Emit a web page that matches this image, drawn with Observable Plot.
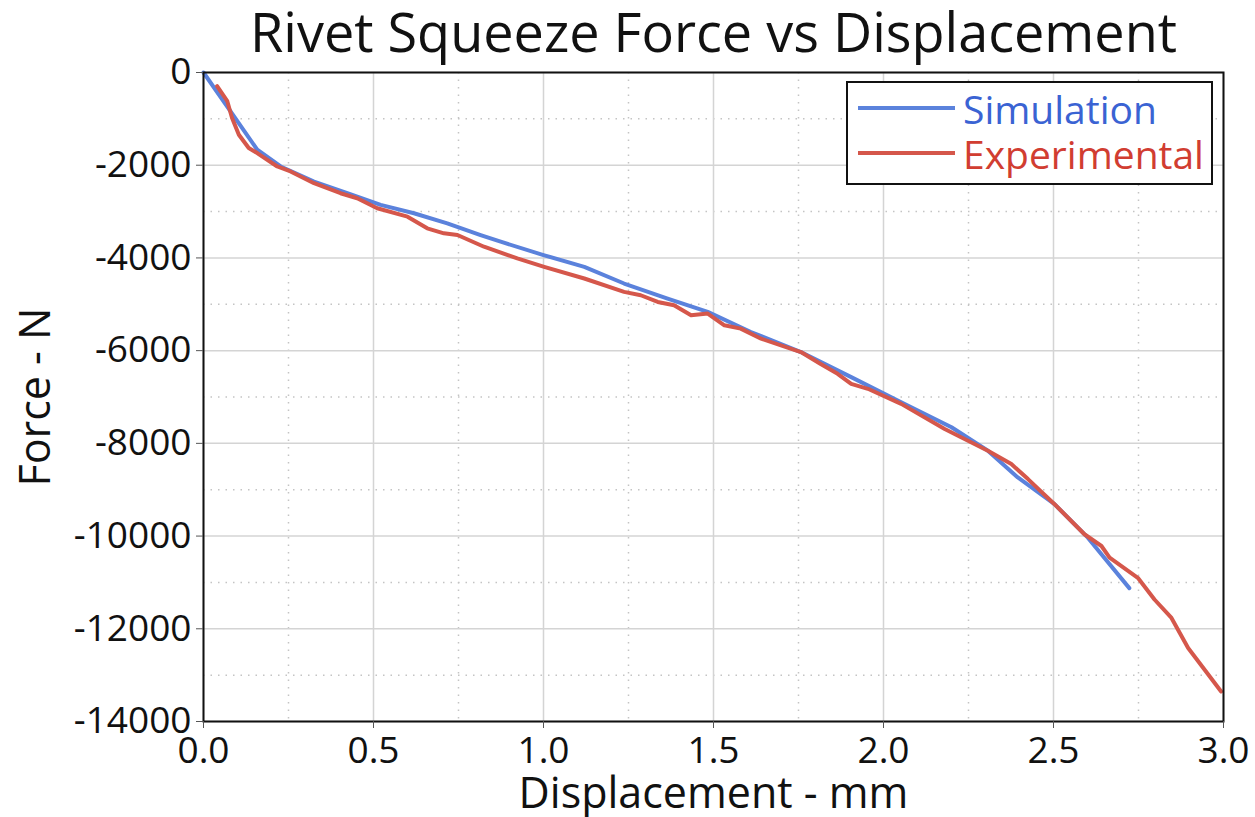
<!DOCTYPE html>
<html>
<head>
<meta charset="utf-8">
<script src="https://cdn.jsdelivr.net/npm/d3@7"></script>
<script src="https://cdn.jsdelivr.net/npm/@observablehq/plot@0.6"></script>
<style>
  body { margin: 0; background: #fff; }
  #wrap { position: relative; width: 1255px; height: 817px; font-family: "Open Sans", "Noto Sans", sans-serif; }
  #legend { position: absolute; left: 846px; top: 81px; width: 363px; height: 100px; border: 2px solid #111; background: #fff; }
  .item { position: absolute; left: 10px; height: 44px; display: flex; align-items: center; font-size: 39px; }
  .swatch { display: inline-block; width: 97px; height: 4px; margin-right: 8px; }
</style>
</head>
<body>
<div id="wrap"></div>
<script>
const title = "Rivet Squeeze Force vs Displacement";
const xLabel = "Displacement - mm";
const yLabel = "Force - N";
const seriesNames = ["Simulation", "Experimental"];
const lineColors = ["#5b82dc", "#d5574b"];
const textColors = ["#3a63d3", "#d13d31"];

const simX = [0, 0.158, 0.227, 0.325, 0.423, 0.521, 0.619, 0.717, 0.815, 0.874, 1.0, 1.12, 1.237, 1.365, 1.483, 1.61, 1.757, 1.905, 2.052, 2.2, 2.307, 2.395, 2.503, 2.601, 2.723];
const simF = [0, -1666, -2027, -2352, -2604, -2856, -3036, -3253, -3506, -3650, -3938, -4192, -4552, -4877, -5165, -5598, -6031, -6571, -7112, -7653, -8158, -8735, -9312, -10034, -11123];

const expX = [0.04, 0.07, 0.084, 0.104, 0.133, 0.158, 0.217, 0.256, 0.325, 0.403, 0.452, 0.511, 0.6, 0.658, 0.707, 0.747, 0.825, 0.923, 1.002, 1.12, 1.237, 1.286, 1.336, 1.384, 1.434, 1.483, 1.532, 1.58, 1.64, 1.757, 1.814, 1.865, 1.905, 1.954, 2.052, 2.18, 2.307, 2.376, 2.425, 2.503, 2.591, 2.641, 2.665, 2.748, 2.797, 2.847, 2.896, 2.993];
const expF = [-296, -620, -980, -1342, -1630, -1738, -2027, -2135, -2388, -2604, -2712, -2928, -3110, -3361, -3469, -3506, -3758, -4011, -4192, -4444, -4733, -4805, -4949, -5021, -5237, -5201, -5453, -5525, -5742, -6031, -6283, -6499, -6716, -6823, -7148, -7689, -8158, -8447, -8771, -9312, -9961, -10214, -10467, -10900, -11368, -11766, -12415, -13352];

const xMajor = [0, 0.5, 1.0, 1.5, 2.0, 2.5, 3.0];
const xMinor = [0.25, 0.75, 1.25, 1.75, 2.25, 2.75];
const yMajor = [0, -2000, -4000, -6000, -8000, -10000, -12000, -14000];
const yMinor = [-1000, -3000, -5000, -7000, -9000, -11000, -13000];

const sim = simX.map((x, i) => ({x, y: simF[i]}));
const exp = expX.map((x, i) => ({x, y: expF[i]}));

const chart = Plot.plot({
  width: 1255,
  height: 817,
  marginLeft: 203,
  marginRight: 32,
  marginTop: 72,
  marginBottom: 96,
  style: {fontFamily: "'Open Sans', 'Noto Sans', sans-serif", fontSize: "37px", color: "#111", background: "#fff", overflow: "visible"},
  x: {domain: [0, 3]},
  y: {domain: [-14000, 0]},
  marks: [
    Plot.gridX(xMinor, {stroke: "#c4c4c4", strokeOpacity: 1, strokeWidth: 1.5, strokeDasharray: "1.5,6"}),
    Plot.gridY(yMinor, {stroke: "#c4c4c4", strokeOpacity: 1, strokeWidth: 1.5, strokeDasharray: "1.5,6"}),
    Plot.gridX(xMajor, {stroke: "#d4d4d4", strokeOpacity: 1, strokeWidth: 1.5}),
    Plot.gridY(yMajor, {stroke: "#d4d4d4", strokeOpacity: 1, strokeWidth: 1.5}),
    Plot.line(sim, {x: "x", y: "y", stroke: lineColors[0], strokeWidth: 4}),
    Plot.line(exp, {x: "x", y: "y", stroke: lineColors[1], strokeWidth: 4}),
    Plot.frame({stroke: "#111", strokeWidth: 2}),
    Plot.axisX(xMajor, {tickSize: 7, tickPadding: 8, tickFormat: d3.format(".1f"), fontSize: 37, label: null, stroke: "#555"}),
    Plot.axisY(yMajor, {tickSize: 7, tickPadding: 5, tickFormat: d => String(d), fontSize: 37, label: null, stroke: "#555"}),
    Plot.text([title], {frameAnchor: "top", textAnchor: "middle", lineAnchor: "bottom", dy: -21, fontSize: 54, fill: "#111"}),
    Plot.text([xLabel], {frameAnchor: "bottom", textAnchor: "middle", lineAnchor: "bottom", dy: 86, fontSize: 43, fill: "#111"}),
    Plot.text([yLabel], {frameAnchor: "left", textAnchor: "middle", rotate: -90, dx: -167, fontSize: 43, fill: "#111"})
  ]
});
const wrap = document.getElementById("wrap");
wrap.appendChild(chart);

const legend = document.createElement("div");
legend.id = "legend";
seriesNames.forEach((name, i) => {
  const it = document.createElement("div");
  it.className = "item";
  it.style.top = (3 + i * 45) + "px";
  const sw = document.createElement("span");
  sw.className = "swatch";
  sw.style.background = lineColors[i];
  const tx = document.createElement("span");
  tx.textContent = name;
  tx.style.color = textColors[i];
  it.appendChild(sw);
  it.appendChild(tx);
  legend.appendChild(it);
});
wrap.appendChild(legend);
</script>
</body>
</html>
